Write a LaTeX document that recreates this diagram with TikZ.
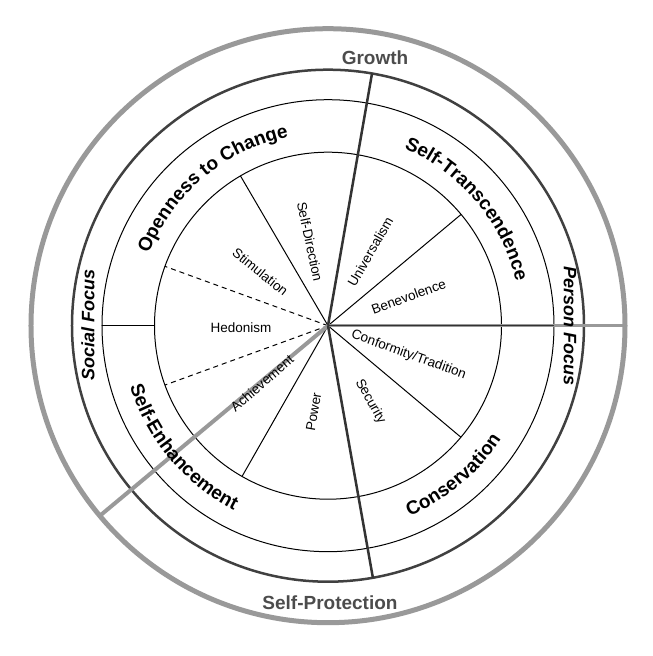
\documentclass[tikz,border=0pt]{standalone}
\usepackage{fontspec}
\setmainfont{Liberation Sans}
\usetikzlibrary{decorations.text}
\begin{document}
\begin{tikzpicture}[x=1pt,y=1pt,
  thin/.style={black, line width=1pt},
  lab/.style={font=\fontsize{13.5}{13.5}\selectfont, inner sep=1pt},
  side/.style={font=\bfseries\itshape\fontsize{18}{18}\selectfont, inner sep=1pt},
  axis/.style={font=\bfseries\fontsize{19}{19}\selectfont, text=black!70, inner sep=1pt},
  ctext/.style={decorate, decoration={text along path, text align=center, text={#1}}}]
\useasboundingbox (-328,-330.3) rectangle (325,325.7);
% circles
\draw[black!40, line width=5pt] (0,0) circle[radius=297];
\draw[black!75, line width=2.5pt] (0,0) circle[radius=256];
\draw[thin] (0,0) circle[radius=226];
\draw[thin] (0,0) circle[radius=173.5];
% inner dividers
\coordinate (c) at (0,0);
\draw[thin] (c) -- (120.3:173.5);
\draw[thin] (c) -- (39.9:173.5);
\draw[thin] (c) -- (-40:173.5);
\draw[thin] (c) -- (-119.7:173.5);
\draw[thin, dashed, dash pattern=on 5pt off 4pt] (c) -- (160:173.5);
\draw[thin, dashed, dash pattern=on 5pt off 4pt] (c) -- (200:173.5);
\draw[thin] (180:173.5) -- (180:226);
% axes
\draw[black!40, line width=4pt] (c) -- (219.8:297);
\draw[black!40, line width=3pt] (c) -- (0:297);
\draw[black!80, line width=1pt] (c) -- (0:226);
\draw[black!80, line width=2.5pt] (c) -- (80.1:256);
\draw[black!80, line width=2.5pt] (c) -- (-79.9:256);
% outer labels
\path[ctext={|\bfseries\fontsize{19}{19}\selectfont|Openness to Change}] (175:193) arc[start angle=175, end angle=85, radius=193];
\path[ctext={|\bfseries\fontsize{19}{19}\selectfont|Self-Transcendence}] (85:193) arc[start angle=85, end angle=-5, radius=193];
\path[ctext={|\bfseries\fontsize{19}{19}\selectfont|Conservation}] (-95:207) arc[start angle=-95, end angle=-5, radius=207];
\path[ctext={|\bfseries\fontsize{19}{19}\selectfont|Self-Enhancement}] (175:207) arc[start angle=175, end angle=265, radius=207];
\node[side, rotate=90] (sf) at (-240,1) {Social Focus};
\node[side, rotate=-90] (pf) at (242,0) {Person Focus};
\node[axis] (gr) at (47,268) {Growth};
\node[axis] (sp) at (2,-277) {Self-Protection};
% inner labels
\node[lab, rotate=-78] (sd) at (-18,84) {Self-Direction};
\node[lab, rotate=-39] (st) at (-67.7,54) {Stimulation};
\node[lab] (he) at (-87,-2) {Hedonism};
\node[lab, rotate=41] (ac) at (-66,-57.6) {Achievement};
\node[lab, rotate=80] (po) at (-14.4,-86) {Power};
\node[lab, rotate=-61] (se) at (42.3,-76) {Security};
\node[lab, rotate=-20] (co) at (80.6,-29.3) {Conformity/Tradition};
\node[lab, rotate=20] (be) at (80.6,29) {Benevolence};
\node[lab, rotate=60] (un) at (42.3,74) {Universalism};
\end{tikzpicture}
\end{document}
